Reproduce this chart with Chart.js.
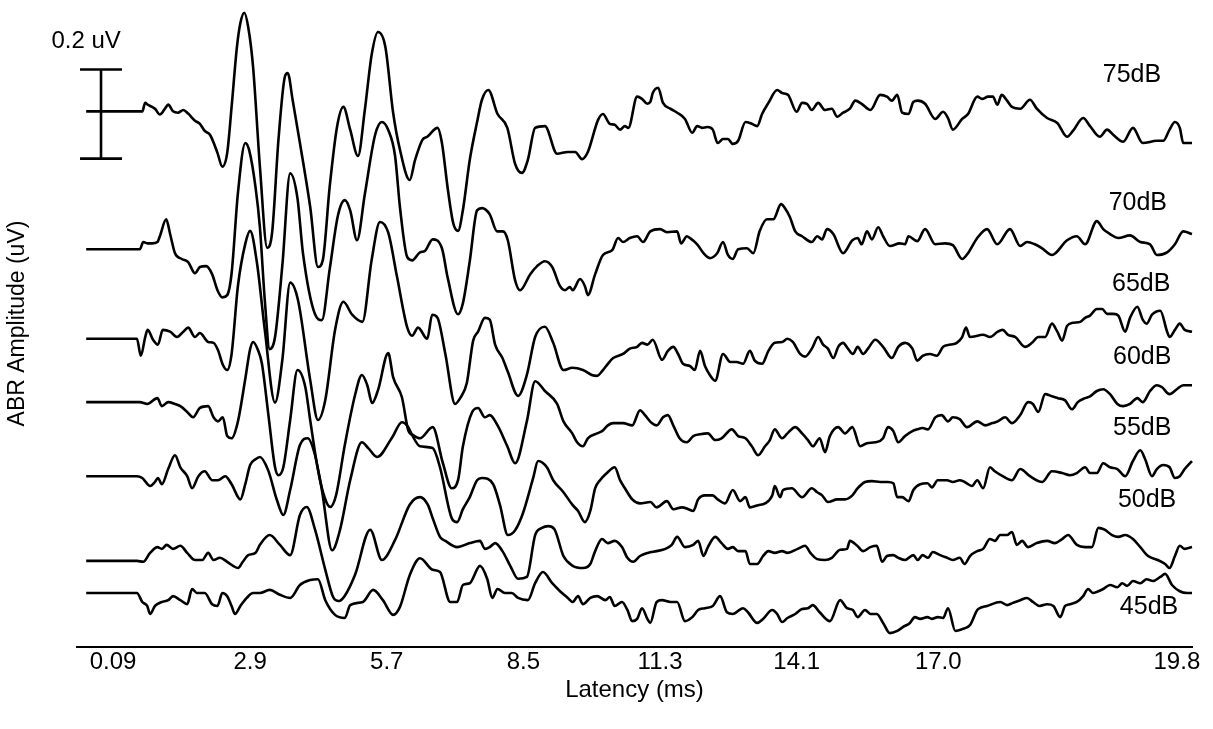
<!DOCTYPE html>
<html>
<head>
<meta charset="utf-8">
<title>ABR waveforms</title>
<script src="https://cdn.jsdelivr.net/npm/chart.js@4.4.1/dist/chart.umd.min.js"></script>
<style>
  html, body { margin: 0; padding: 0; background: #fff; }
  #wrap { width: 1213px; height: 729px; }
</style>
</head>
<body>
<div id="wrap"><canvas id="abrChart" width="1213" height="729"></canvas></div>
<script>
// =========================
// DATA
// latency in ms, amplitude in uV relative to each trace's own baseline
// =========================
const levels = ["75dB", "70dB", "65dB", "60dB", "55dB", "50dB", "45dB"];

const trace75 = [[-0.46,0],[0.69,0],[0.75,0.019],[0.80,0.015],[0.89,0.010],[0.95,0.006],[1.05,-0.007],[1.16,0.007],[1.22,0.015],[1.32,0],[1.42,-0.003],[1.53,0.003],[1.63,-0.005],[1.77,-0.021],[1.87,-0.028],[1.97,-0.044],[2.08,-0.053],[2.23,-0.093],[2.33,-0.124],[2.43,-0.093],[2.52,0.010],[2.63,0.145],[2.70,0.198],[2.78,0.221],[2.86,0.189],[2.96,0.100],[3.10,-0.124],[3.25,-0.306],[3.35,-0.272],[3.48,-0.064],[3.61,0.077],[3.67,0.086],[3.77,0.026],[3.92,-0.071],[4.13,-0.214],[4.29,-0.349],[4.39,-0.333],[4.53,-0.169],[4.68,-0.035],[4.81,0.010],[4.95,-0.041],[5.11,-0.100],[5.25,0.003],[5.39,0.127],[5.52,0.178],[5.67,0.145],[5.83,-0.003],[5.97,-0.086],[6.17,-0.154],[6.28,-0.109],[6.43,-0.064],[6.53,-0.057],[6.74,-0.037],[6.83,-0.071],[6.95,-0.174],[7.06,-0.250],[7.16,-0.268],[7.26,-0.221],[7.40,-0.109],[7.55,-0.024],[7.65,0.026],[7.78,0.048],[7.97,-0.006],[8.17,-0.037],[8.33,-0.118],[8.47,-0.138],[8.59,-0.109],[8.74,-0.037],[8.94,-0.033],[9.19,-0.095],[9.41,-0.091],[9.56,-0.091],[9.70,-0.107],[9.82,-0.091],[10.03,-0.019],[10.13,-0.006],[10.27,-0.028],[10.37,-0.030],[10.48,-0.041],[10.58,-0.033],[10.65,-0.037],[10.83,0.033],[10.93,0.028],[11.04,0.017],[11.10,0.021],[11.15,0.041],[11.26,0.053],[11.36,0.019],[11.51,0.006],[11.65,-0.003],[11.81,-0.017],[11.96,-0.048],[12.06,-0.033],[12.16,-0.037],[12.27,-0.035],[12.38,-0.041],[12.48,-0.071],[12.59,-0.062],[12.69,-0.062],[12.79,-0.073],[12.90,-0.066],[13.05,-0.024],[13.18,-0.028],[13.29,-0.033],[13.39,-0.006],[13.52,0.019],[13.70,0.048],[13.80,0.041],[13.92,0.037],[14.10,-0.001],[14.21,0.019],[14.31,0.017],[14.41,0.003],[14.54,0.019],[14.68,0.003],[14.82,0.006],[14.93,-0.012],[15.05,-0.003],[15.19,0.006],[15.30,0.024],[15.43,0.017],[15.61,0.003],[15.81,0.037],[15.95,0.033],[16.05,0.024],[16.16,0.037],[16.26,-0.003],[16.39,-0.006],[16.49,0.021],[16.58,0.024],[16.73,0.017],[16.94,-0.017],[17.10,-0.001],[17.20,-0.015],[17.30,-0.041],[17.49,-0.017],[17.61,-0.006],[17.80,0.033],[17.90,0.028],[18.02,0.033],[18.12,0.033],[18.21,0.015],[18.30,0.037],[18.41,0.024],[18.51,0.010],[18.68,0.006],[18.88,0.026],[19.02,0.006],[19.23,-0.015],[19.44,-0.026],[19.64,-0.057],[19.76,-0.044],[19.97,-0.015],[20.11,-0.033],[20.31,-0.057],[20.46,-0.041],[20.59,-0.053],[20.79,-0.068],[20.99,-0.037],[21.19,-0.071],[21.48,-0.066],[21.61,-0.066],[21.74,-0.041],[21.85,-0.024],[21.95,-0.037],[22.02,-0.071],[22.20,-0.071]];

const trace70 = [[-0.46,0],[0.64,0],[0.71,0.016],[0.79,0.013],[0.89,0.013],[1.00,0.016],[1.05,0.029],[1.18,0.067],[1.26,0.034],[1.36,-0.009],[1.50,-0.022],[1.63,-0.029],[1.77,-0.054],[1.87,-0.040],[2.00,-0.038],[2.12,-0.056],[2.23,-0.092],[2.33,-0.108],[2.43,-0.103],[2.52,-0.054],[2.65,0.126],[2.80,0.238],[2.88,0.222],[3.01,0.139],[3.10,0.049],[3.20,-0.114],[3.30,-0.224],[3.41,-0.197],[3.56,-0.036],[3.72,0.170],[3.87,0.114],[3.98,-0.007],[4.23,-0.146],[4.37,-0.159],[4.53,-0.045],[4.70,0.076],[4.84,0.110],[4.95,0.087],[5.09,0.020],[5.25,0.123],[5.46,0.256],[5.60,0.285],[5.73,0.267],[5.87,0.209],[5.97,0.094],[6.12,-0.018],[6.22,-0.025],[6.38,-0.007],[6.48,-0.004],[6.64,0.022],[6.83,0.002],[6.95,-0.065],[7.16,-0.146],[7.26,-0.121],[7.40,-0.027],[7.55,0.087],[7.65,0.092],[7.81,0.078],[7.96,0.040],[8.08,0.040],[8.18,0.020],[8.33,-0.070],[8.43,-0.092],[8.64,-0.056],[8.78,-0.038],[8.94,-0.027],[9.09,-0.040],[9.25,-0.083],[9.35,-0.092],[9.45,-0.085],[9.51,-0.092],[9.66,-0.067],[9.76,-0.083],[9.82,-0.103],[9.97,-0.056],[10.13,-0.013],[10.32,-0.002],[10.44,0.025],[10.54,0.016],[10.68,0.025],[10.83,0.029],[10.95,0.016],[11.10,0.040],[11.30,0.045],[11.44,0.038],[11.65,0.040],[11.73,0.013],[11.85,0.029],[11.91,0.025],[12.06,0.011],[12.19,-0.009],[12.32,-0.020],[12.47,-0.009],[12.59,0.016],[12.69,-0.013],[12.79,-0.022],[12.90,0],[13.08,0.002],[13.21,-0.009],[13.34,0.040],[13.49,0.067],[13.62,0.067],[13.78,0.101],[13.86,0.092],[13.96,0.072],[14.07,0.040],[14.21,0.029],[14.41,0.016],[14.52,0.029],[14.62,0.022],[14.72,0.045],[14.85,0.034],[15.05,-0.009],[15.24,0.020],[15.35,0.025],[15.43,0.011],[15.54,0.040],[15.64,0.022],[15.77,0.049],[15.87,0.029],[16.01,0.007],[16.21,0.013],[16.32,0.011],[16.39,0.029],[16.57,0.018],[16.73,0.045],[16.94,0.011],[17.14,0.013],[17.30,0.009],[17.49,-0.022],[17.61,-0.009],[17.80,0.025],[18.00,0.045],[18.21,0.011],[18.47,0.045],[18.68,0.007],[18.82,0.016],[18.98,0.011],[19.13,0.002],[19.33,-0.013],[19.64,0.020],[19.84,0.029],[20.01,0.011],[20.25,0.063],[20.38,0.045],[20.52,0.034],[20.69,0.025],[20.93,0.031],[21.14,0.016],[21.34,0.011],[21.48,-0.013],[21.69,-0.007],[21.85,0.011],[22.02,0.040],[22.20,0.034]];

const trace65 = [[-0.46,0],[0.58,0],[0.66,-0.038],[0.75,0.004],[0.80,0.020],[0.91,-0.002],[1.01,-0.013],[1.11,0.020],[1.26,0.016],[1.40,0.004],[1.53,0.016],[1.63,0.025],[1.77,0.004],[1.87,0.013],[2.04,-0.007],[2.15,-0.009],[2.24,-0.025],[2.34,-0.058],[2.43,-0.070],[2.52,-0.034],[2.65,0.119],[2.80,0.213],[2.90,0.242],[3.04,0.170],[3.20,0.020],[3.41,-0.143],[3.56,-0.047],[3.72,0.126],[3.88,0.087],[4.13,-0.092],[4.29,-0.182],[4.44,-0.137],[4.64,0.020],[4.81,0.083],[4.99,0.054],[5.20,0.038],[5.39,0.177],[5.56,0.262],[5.73,0.238],[5.91,0.139],[6.12,0.025],[6.22,0.007],[6.34,0.025],[6.53,0],[6.63,0.054],[6.74,0.047],[6.90,-0.034],[7.10,-0.146],[7.21,-0.132],[7.34,-0.099],[7.47,-0.004],[7.57,0.016],[7.71,0.047],[7.81,0.043],[7.92,-0.013],[8.07,-0.043],[8.18,-0.074],[8.39,-0.128],[8.57,-0.081],[8.74,0.004],[8.94,0.027],[9.11,-0.009],[9.32,-0.070],[9.50,-0.065],[9.72,-0.070],[9.90,-0.081],[10.01,-0.083],[10.13,-0.070],[10.23,-0.056],[10.34,-0.043],[10.54,-0.034],[10.68,-0.022],[10.83,-0.018],[10.93,-0.009],[11.04,-0.013],[11.15,-0.002],[11.34,-0.047],[11.46,-0.027],[11.57,-0.018],[11.67,-0.034],[11.77,-0.056],[11.91,-0.061],[12.01,-0.070],[12.12,-0.027],[12.22,-0.061],[12.32,-0.081],[12.43,-0.094],[12.59,-0.034],[12.74,-0.052],[12.87,-0.052],[13.00,-0.056],[13.14,-0.027],[13.24,-0.049],[13.39,-0.056],[13.52,-0.027],[13.65,-0.009],[13.80,-0.007],[13.91,0],[14.02,-0.007],[14.17,-0.034],[14.27,-0.040],[14.41,-0.022],[14.54,0.004],[14.64,-0.013],[14.74,-0.022],[14.85,-0.043],[14.95,-0.018],[15.05,-0.009],[15.15,-0.022],[15.25,-0.034],[15.35,-0.018],[15.46,-0.034],[15.56,-0.022],[15.71,-0.002],[15.87,-0.018],[16.05,-0.043],[16.18,-0.018],[16.32,-0.009],[16.47,-0.022],[16.57,-0.049],[16.68,-0.038],[16.83,-0.034],[16.97,-0.038],[17.10,-0.018],[17.25,-0.013],[17.38,-0.009],[17.49,0.004],[17.57,0.025],[17.65,0.004],[17.92,0.009],[18.06,0.004],[18.22,0.016],[18.32,0.020],[18.43,0.009],[18.58,0.004],[18.78,-0.018],[18.92,-0.009],[19.05,0.004],[19.19,0.004],[19.33,0.034],[19.44,0.016],[19.54,-0.004],[19.64,0.029],[19.76,0.036],[19.91,0.038],[20.01,0.047],[20.11,0.052],[20.25,0.067],[20.36,0.067],[20.46,0.056],[20.59,0.056],[20.69,0.052],[20.83,0.016],[20.93,0.047],[21.08,0.072],[21.19,0.043],[21.27,0.034],[21.38,0.054],[21.55,0.063],[21.69,0.016],[21.74,0.004],[21.85,0.020],[21.95,0.034],[22.05,0.020],[22.20,0.016]];

const trace60 = [[-0.46,0],[0.64,0],[0.79,-0.004],[1.00,0.009],[1.09,-0.009],[1.22,0],[1.36,-0.004],[1.47,-0.009],[1.61,-0.022],[1.73,-0.034],[1.87,-0.013],[2.04,-0.009],[2.15,-0.034],[2.24,-0.043],[2.34,-0.034],[2.43,-0.076],[2.52,-0.081],[2.65,-0.043],[2.80,0.052],[2.90,0.119],[2.96,0.135],[3.06,0.117],[3.14,0.087],[3.27,-0.025],[3.41,-0.146],[3.48,-0.164],[3.58,-0.146],[3.72,-0.040],[3.87,0.072],[4.03,0.034],[4.13,-0.040],[4.29,-0.152],[4.43,-0.215],[4.54,-0.235],[4.66,-0.209],[4.84,-0.096],[5.05,0.016],[5.19,0.061],[5.30,0.038],[5.40,-0.002],[5.52,0.027],[5.73,0.110],[5.83,0.056],[6.01,0.011],[6.14,-0.063],[6.24,-0.074],[6.38,-0.081],[6.64,-0.056],[6.85,-0.137],[7.03,-0.193],[7.16,-0.175],[7.26,-0.099],[7.45,-0.022],[7.57,-0.013],[7.71,-0.034],[7.81,-0.029],[7.97,-0.052],[8.17,-0.099],[8.33,-0.137],[8.57,-0.043],[8.74,0.047],[8.94,0.025],[9.19,-0.004],[9.32,-0.043],[9.50,-0.070],[9.60,-0.090],[9.72,-0.099],[9.82,-0.081],[10.01,-0.070],[10.11,-0.065],[10.23,-0.052],[10.34,-0.047],[10.54,-0.047],[10.73,-0.052],[10.89,-0.018],[10.99,-0.029],[11.13,-0.047],[11.23,-0.052],[11.36,-0.034],[11.46,-0.029],[11.57,-0.052],[11.70,-0.081],[11.85,-0.090],[11.98,-0.076],[12.12,-0.072],[12.28,-0.070],[12.43,-0.085],[12.56,-0.081],[12.77,-0.061],[12.90,-0.076],[13.05,-0.081],[13.18,-0.099],[13.31,-0.119],[13.45,-0.099],[13.55,-0.085],[13.65,-0.061],[13.80,-0.081],[13.91,-0.070],[14.07,-0.056],[14.21,-0.070],[14.33,-0.085],[14.43,-0.099],[14.57,-0.081],[14.68,-0.112],[14.78,-0.076],[14.95,-0.056],[15.09,-0.070],[15.24,-0.056],[15.40,-0.099],[15.54,-0.092],[15.71,-0.090],[15.87,-0.081],[15.97,-0.056],[16.08,-0.065],[16.18,-0.090],[16.32,-0.076],[16.47,-0.065],[16.57,-0.061],[16.68,-0.058],[16.79,-0.061],[16.94,-0.034],[17.07,-0.029],[17.20,-0.043],[17.30,-0.034],[17.44,-0.038],[17.59,-0.056],[17.80,-0.043],[17.96,-0.052],[18.11,-0.047],[18.22,-0.043],[18.37,-0.034],[18.51,-0.047],[18.68,-0.029],[18.84,0],[18.94,-0.004],[19.05,-0.022],[19.19,0.018],[19.33,0.013],[19.45,0.009],[19.60,0.004],[19.74,-0.016],[19.86,0],[20.01,0.009],[20.11,0.013],[20.25,0.025],[20.38,0.029],[20.52,0.018],[20.67,-0.004],[20.79,-0.009],[20.93,-0.004],[21.08,0.009],[21.19,0],[21.34,0.025],[21.48,0.038],[21.58,0.034],[21.74,0.018],[21.89,0.029],[22.02,0.038],[22.20,0.038]];

const trace55 = [[-0.46,0],[0.58,0],[0.69,-0.004],[0.85,-0.022],[0.95,-0.013],[1.01,-0.004],[1.09,-0.018],[1.22,0.016],[1.36,0.047],[1.47,0.020],[1.61,0],[1.71,-0.027],[1.84,0],[1.97,0.011],[2.12,-0.009],[2.24,-0.009],[2.39,0],[2.52,-0.018],[2.70,-0.052],[2.80,-0.018],[2.90,0.025],[3.01,0.038],[3.10,0.043],[3.27,0.013],[3.45,-0.054],[3.58,-0.087],[3.72,-0.031],[3.92,0.070],[4.08,0.085],[4.23,0.047],[4.37,-0.031],[4.58,-0.166],[4.74,-0.121],[4.95,-0.009],[5.19,0.076],[5.32,0.063],[5.50,0.043],[5.81,0.087],[6.01,0.121],[6.14,0.110],[6.22,0.092],[6.38,0.067],[6.64,0.063],[6.79,0.020],[7.03,-0.094],[7.14,-0.103],[7.26,-0.074],[7.40,-0.047],[7.55,-0.009],[7.65,-0.004],[7.88,-0.018],[8.02,-0.065],[8.18,-0.132],[8.33,-0.121],[8.49,-0.083],[8.70,-0.004],[8.80,0.034],[8.98,0.020],[9.11,-0.009],[9.32,-0.036],[9.51,-0.065],[9.62,-0.078],[9.76,-0.103],[9.87,-0.078],[9.97,-0.027],[10.07,-0.009],[10.21,0.007],[10.37,0.020],[10.48,-0.009],[10.58,-0.027],[10.73,-0.052],[10.89,-0.061],[11.10,-0.058],[11.23,-0.070],[11.44,-0.056],[11.57,-0.074],[11.75,-0.070],[11.88,-0.074],[11.98,-0.078],[12.08,-0.052],[12.22,-0.043],[12.38,-0.043],[12.48,-0.052],[12.63,-0.061],[12.79,-0.031],[12.94,-0.056],[13.05,-0.047],[13.14,-0.070],[13.31,-0.065],[13.45,-0.061],[13.60,-0.043],[13.65,-0.022],[13.76,-0.047],[13.82,-0.031],[14.00,-0.027],[14.21,-0.047],[14.41,-0.027],[14.52,-0.036],[14.62,-0.043],[14.74,-0.058],[14.93,-0.052],[15.09,-0.052],[15.24,-0.043],[15.35,-0.027],[15.50,-0.013],[15.64,-0.011],[15.81,-0.013],[15.97,-0.013],[16.08,-0.016],[16.16,-0.047],[16.26,-0.047],[16.39,-0.056],[16.49,-0.031],[16.63,-0.018],[16.78,-0.016],[16.87,-0.025],[16.99,-0.009],[17.18,-0.009],[17.30,-0.013],[17.44,-0.009],[17.54,-0.013],[17.69,-0.022],[17.80,-0.009],[17.92,-0.027],[18.06,0.020],[18.16,0.011],[18.32,0],[18.51,-0.009],[18.68,0.016],[18.88,0],[19.13,-0.013],[19.33,0.011],[19.54,0.007],[19.70,0.002],[19.84,0.007],[20.01,0.020],[20.11,0.007],[20.25,0.007],[20.38,0.029],[20.52,0.020],[20.67,0.016],[20.83,0],[20.99,0.034],[21.14,0.058],[21.24,0.038],[21.38,0],[21.48,0.016],[21.61,0.025],[21.74,0.020],[21.85,-0.004],[21.95,0],[22.05,0.016],[22.20,0.034]];

const trace50 = [[-0.46,0],[0.58,0],[0.71,-0.002],[0.85,0.018],[1.00,0.031],[1.09,0.027],[1.19,0.036],[1.32,0.027],[1.47,0.034],[1.61,0.018],[1.77,0.002],[1.92,0.002],[2.04,0.018],[2.15,0.002],[2.28,0.007],[2.43,-0.002],[2.55,-0.011],[2.65,-0.016],[2.75,-0.002],[2.86,0.013],[3.01,0.018],[3.10,0.036],[3.30,0.058],[3.51,0.036],[3.72,0.013],[3.92,0.103],[4.06,0.121],[4.23,0.070],[4.44,-0.020],[4.60,-0.081],[4.72,-0.090],[4.84,-0.078],[5.05,-0.031],[5.36,0.070],[5.60,0.002],[5.87,0.047],[6.17,0.126],[6.38,0.143],[6.54,0.126],[6.64,0.096],[6.79,0.054],[6.90,0.045],[7.14,0.031],[7.40,0.040],[7.61,0.045],[7.71,0.027],[7.81,0.031],[7.92,0.040],[8.07,0.022],[8.23,-0.011],[8.39,-0.040],[8.57,-0.036],[8.74,0.058],[8.88,0.074],[9.01,0.078],[9.14,0.070],[9.32,0.011],[9.51,-0.011],[9.72,-0.016],[9.87,-0.007],[9.97,0.022],[10.11,0.049],[10.23,0.040],[10.37,0.045],[10.52,0.031],[10.63,0.007],[10.75,-0.002],[10.89,0.011],[11.05,0.018],[11.23,0.022],[11.41,0.027],[11.54,0.036],[11.65,0.054],[11.81,0.031],[11.98,0.036],[12.08,0.045],[12.19,0.011],[12.28,0.031],[12.43,0.054],[12.56,0.040],[12.69,0.027],[12.79,0.031],[12.90,0.022],[13.05,0.022],[13.14,-0.007],[13.29,-0.007],[13.41,0.011],[13.52,0.022],[13.65,0.018],[13.80,0.022],[13.91,0.018],[14.12,0.027],[14.27,0.034],[14.38,0.018],[14.52,0.004],[14.68,0.002],[14.82,0.007],[14.99,0.025],[15.13,0.027],[15.19,0.045],[15.34,0.034],[15.46,0.022],[15.61,0.031],[15.74,0.034],[15.85,-0.002],[15.95,0.011],[16.08,0.013],[16.18,0.007],[16.32,0.002],[16.49,0.013],[16.58,0.002],[16.68,0.013],[16.79,0.007],[16.89,0.020],[17.04,0.013],[17.18,0.007],[17.30,0.002],[17.44,0.007],[17.54,-0.007],[17.65,0.011],[17.80,0.022],[17.92,0.027],[18.06,0.049],[18.16,0.045],[18.27,0.058],[18.41,0.058],[18.51,0.065],[18.61,0.036],[18.72,0.045],[18.84,0.031],[19.02,0.040],[19.23,0.045],[19.39,0.040],[19.54,0.049],[19.66,0.058],[19.84,0.036],[20.01,0.031],[20.15,0.031],[20.28,0.074],[20.41,0.070],[20.56,0.058],[20.69,0.054],[20.83,0.058],[20.99,0.049],[21.14,0.031],[21.30,0.011],[21.50,0.002],[21.65,-0.007],[21.74,-0.016],[21.85,0.011],[21.95,0.034],[22.05,0.027],[22.20,0.031]];

const trace45 = [[-0.46,0],[0.58,0],[0.69,-0.020],[0.79,-0.029],[0.85,-0.047],[0.95,-0.029],[1.09,-0.020],[1.22,-0.016],[1.32,-0.007],[1.47,-0.016],[1.61,-0.025],[1.71,0.009],[1.81,0],[1.97,0],[2.12,-0.025],[2.23,-0.029],[2.33,0],[2.43,-0.007],[2.52,-0.029],[2.59,-0.047],[2.70,-0.029],[2.83,-0.011],[2.96,0],[3.10,0],[3.30,0.007],[3.51,-0.004],[3.72,-0.011],[3.92,0.018],[4.13,0.029],[4.29,0.031],[4.44,-0.016],[4.64,-0.049],[4.84,-0.056],[4.95,-0.027],[5.21,-0.020],[5.42,0.007],[5.62,-0.016],[5.83,-0.049],[5.97,-0.031],[6.17,0.040],[6.38,0.078],[6.64,0.052],[6.79,0.047],[7.00,-0.020],[7.14,-0.020],[7.26,0.018],[7.40,0.022],[7.61,0.061],[7.76,0.031],[7.86,-0.011],[7.97,0.009],[8.12,0],[8.26,0],[8.39,-0.011],[8.59,-0.016],[8.74,0.022],[8.90,0.047],[9.09,0.022],[9.25,0.004],[9.41,-0.011],[9.51,-0.020],[9.62,-0.007],[9.72,-0.025],[9.87,-0.011],[10.01,-0.007],[10.18,-0.016],[10.27,-0.009],[10.37,-0.029],[10.52,-0.020],[10.63,-0.038],[10.73,-0.063],[10.83,-0.058],[10.93,-0.034],[11.04,-0.058],[11.10,-0.067],[11.23,-0.020],[11.34,-0.016],[11.51,-0.020],[11.65,-0.020],[11.81,-0.063],[11.96,-0.054],[12.08,-0.038],[12.22,-0.034],[12.38,-0.029],[12.53,-0.007],[12.67,-0.043],[12.79,-0.047],[13.00,-0.034],[13.10,-0.043],[13.29,-0.067],[13.41,-0.058],[13.60,-0.038],[13.70,-0.047],[13.80,-0.065],[13.91,-0.056],[14.07,-0.047],[14.21,-0.036],[14.33,-0.034],[14.43,-0.027],[14.57,-0.043],[14.78,-0.063],[14.99,-0.016],[15.13,-0.034],[15.25,-0.038],[15.35,-0.054],[15.50,-0.038],[15.61,-0.047],[15.74,-0.047],[15.87,-0.067],[16.01,-0.090],[16.16,-0.085],[16.28,-0.076],[16.42,-0.067],[16.52,-0.054],[16.63,-0.058],[16.78,-0.054],[16.87,-0.058],[16.99,-0.054],[17.10,-0.056],[17.20,-0.034],[17.35,-0.085],[17.49,-0.081],[17.65,-0.072],[17.80,-0.038],[17.85,-0.034],[18.00,-0.029],[18.27,-0.020],[18.41,-0.027],[18.53,-0.022],[18.68,-0.016],[18.82,-0.011],[18.94,-0.020],[19.08,-0.029],[19.23,-0.025],[19.36,-0.029],[19.50,-0.054],[19.60,-0.029],[19.70,-0.025],[19.84,-0.020],[19.97,-0.007],[20.07,0.009],[20.17,0],[20.28,0.004],[20.38,0.009],[20.52,0.018],[20.67,0.013],[20.77,0.022],[20.87,0.016],[20.99,0.027],[21.14,0.022],[21.27,0.031],[21.40,0.027],[21.55,0.036],[21.65,0.043],[21.79,0.018],[21.95,0.004],[22.10,0],[22.20,0]];

const traces = [trace75, trace70, trace65, trace60, trace55, trace50, trace45];

// tick positions (ms) and the text printed under them; the figure prints its last label "19.8" near the end of the sweep
const tickValues = [0.09, 2.9, 5.7, 8.5, 11.3, 14.1, 17.0, 21.89];
const tickLabels = ["0.09", "2.9", "5.7", "8.5", "11.3", "14.1", "17.0", "19.8"];
const scaleBarUv = 0.2;


// =========================
// LAYOUT (stacking offsets and label anchors, uV / ms)
// =========================
const offsets = [1.201, 0.892, 0.691, 0.549, 0.383, 0.193, 0.121];
const labelAt = [[20.97, 0.082], [21.09, 0.103], [21.16, 0.123], [21.18, 0.101], [21.18, 0.108], [21.28, 0.137], [21.32, -0.031]];
const barT = -0.156;      // scale bar x position, ms
const barCapHalf = 0.43;  // half width of the caps, ms
const barCenter = offsets[0] - 0.006;
const barCaptionT = -0.46;

const FONT = "'Liberation Sans', Arial, Helvetica, sans-serif";


// =========================
// BUILD DATASETS
// =========================
const lineStyle = {
  borderColor: "#000",
  borderWidth: 2.6,
  pointRadius: 0,
  fill: false,
  clip: false
};

const datasets = traces.map((tr, i) => ({
  label: levels[i],
  data: tr.map(([t, v]) => ({ x: t, y: v + offsets[i] })),
  cubicInterpolationMode: "monotone",
  ...lineStyle
}));

const barTop = barCenter + scaleBarUv / 2;
const barBottom = barCenter - scaleBarUv / 2;

datasets.push(
  { label: "bar", data: [{ x: barT, y: barBottom }, { x: barT, y: barTop }], tension: 0, ...lineStyle },
  { label: "capTop", data: [{ x: barT - barCapHalf, y: barTop }, { x: barT + barCapHalf, y: barTop }], tension: 0, ...lineStyle },
  { label: "capBottom", data: [{ x: barT - barCapHalf, y: barBottom }, { x: barT + barCapHalf, y: barBottom }], tension: 0, ...lineStyle }
);


// =========================
// TEXT LABELS (dB levels and scale bar caption)
// =========================
const labelPlugin = {
  id: "traceLabels",
  afterDatasetsDraw(chart) {
    const { ctx, scales: { x, y } } = chart;
    ctx.save();
    ctx.fillStyle = "#000";
    ctx.textAlign = "center";
    ctx.textBaseline = "middle";
    ctx.font = "25px " + FONT;
    levels.forEach((lab, i) => {
      const [t, dv] = labelAt[i];
      ctx.fillText(lab, x.getPixelForValue(t), y.getPixelForValue(offsets[i] + dv));
    });
    ctx.font = "24px " + FONT;
    ctx.fillText(scaleBarUv + " uV", x.getPixelForValue(barCaptionT), y.getPixelForValue(barTop + 0.062));
    ctx.restore();
  }
};


// =========================
// RENDER CHART
// =========================
new Chart(document.getElementById("abrChart"), {
  type: "line",
  data: { datasets },
  plugins: [labelPlugin],
  options: {
    responsive: false,
    animation: false,
    devicePixelRatio: 1,
    layout: { padding: { top: 0, right: 21, bottom: 0, left: 0 } },
    plugins: { legend: { display: false }, tooltip: { enabled: false } },
    scales: {
      x: {
        type: "linear",
        min: -0.648,
        max: 22.2,
        grid: { display: false, drawTicks: false },
        border: { display: true, color: "#000", width: 2 },
        afterBuildTicks: (scale) => { scale.ticks = tickValues.map(v => ({ value: v })); },
        afterFit: (scale) => { scale.height = 82; },
        ticks: {
          autoSkip: false,
          maxRotation: 0,
          padding: 1,
          color: "#000",
          font: { family: FONT, size: 24 },
          callback: (value, index) => tickLabels[index]
        },
        title: {
          display: true,
          text: "Latency (ms)",
          color: "#000",
          font: { family: FONT, size: 24 },
          padding: { top: 0, bottom: 24 }
        }
      },
      y: {
        type: "linear",
        min: 0,
        max: 1.4507,
        grid: { display: false, drawTicks: false },
        border: { display: false },
        ticks: { display: false },
        afterFit: (scale) => { scale.width = 77; },
        title: {
          display: true,
          text: "ABR Amplitude (uV)",
          color: "#000",
          font: { family: FONT, size: 23 },
          padding: { top: 4, bottom: 0 }
        }
      }
    }
  }
});
</script>
</body>
</html>
